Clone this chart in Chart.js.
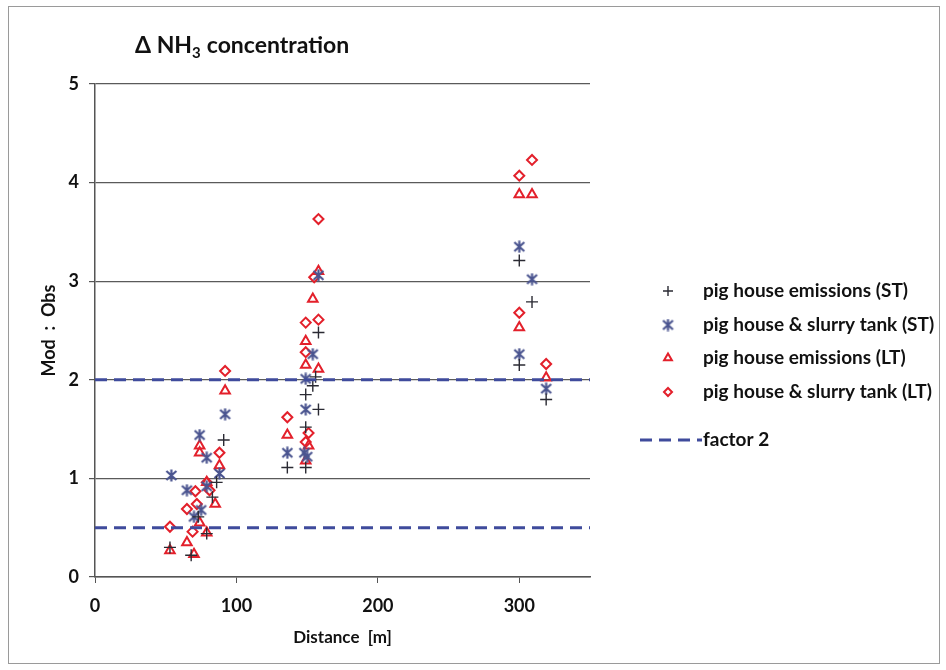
<!DOCTYPE html>
<html>
<head>
<meta charset="utf-8">
<script src="https://cdn.jsdelivr.net/npm/chart.js@4.4.1/dist/chart.umd.min.js"></script>
<style>
html,body{margin:0;padding:0;background:#fff;}
#wrap{width:946px;height:670px;position:relative;}
</style>
</head>
<body>
<div id="wrap"><canvas id="c" width="946" height="670"></canvas></div>
<script>
// ---- data ----
const xTickValues = [0, 100, 200, 300];
const yTickValues = [0, 1, 2, 3, 4, 5];

const seriesNames = [
  'pig house emissions (ST)',
  'pig house & slurry tank (ST)',
  'pig house emissions (LT)',
  'pig house & slurry tank (LT)',
  'factor 2'
];

// pig house emissions (ST)
const phST_x = [53, 68, 73, 79, 83, 86, 91, 136, 149, 149, 149, 154, 158, 158, 156, 300, 300, 309, 319];
const phST_y = [0.30, 0.22, 0.61, 0.44, 0.81, 0.96, 1.39, 1.11, 1.11, 1.52, 1.85, 1.94, 1.70, 2.48, 2.03, 2.15, 3.21, 2.79, 1.80];

// pig house & slurry tank (ST)
const phsST_x = [54, 65, 70, 74, 75, 79, 79, 88, 92, 136, 148, 150, 149, 149, 154, 158, 300, 300, 309, 319];
const phsST_y = [1.03, 0.88, 0.61, 1.44, 0.68, 1.21, 0.92, 1.05, 1.65, 1.26, 1.26, 1.22, 1.70, 2.01, 2.26, 3.06, 2.26, 3.35, 3.02, 1.91];

// pig house emissions (LT)
const phLT_x = [53, 65, 70, 74, 74, 74, 79, 79, 85, 88, 92, 136, 149, 151, 149, 149, 154, 158, 158, 300, 300, 309, 319];
const phLT_y = [0.27, 0.35, 0.23, 1.33, 1.26, 0.55, 0.96, 0.45, 0.74, 1.13, 1.89, 1.44, 1.18, 1.33, 2.15, 2.39, 2.82, 2.11, 3.10, 2.53, 3.88, 3.88, 2.02];

// pig house & slurry tank (LT)
const phsLT_x = [53, 65, 69, 71, 72, 79, 81, 88, 92, 136, 149, 151, 149, 149, 158, 155, 158, 300, 300, 309, 319];
const phsLT_y = [0.51, 0.69, 0.46, 0.87, 0.74, 0.96, 0.88, 1.26, 2.09, 1.62, 1.37, 1.46, 2.28, 2.58, 2.61, 3.04, 3.63, 2.68, 4.07, 4.23, 2.16];

// factor 2 lines
const factorUpper = 2;
const factorLower = 0.5;
const xRange = [0, 350];

// ---- build ----
const zip = (xs, ys) => xs.map((x, i) => ({x: x, y: ys[i]}));
const RED = '#e3202b';
const DARK = '#2a2a33';
const BLUE = '#4b5590';
const NAVY = '#3f4b9c';
const FONT = 'Lato';

// asterisk-like marker: x with a vertical bar
function makeAsterisk(color) {
  const c = document.createElement('canvas');
  c.width = 13; c.height = 13;
  const g = c.getContext('2d');
  g.strokeStyle = color; g.lineWidth = 2.2; g.lineCap = 'butt';
  g.beginPath();
  g.moveTo(1.5, 2); g.lineTo(11.5, 11);
  g.moveTo(11.5, 2); g.lineTo(1.5, 11);
  g.moveTo(6.5, 0.5); g.lineTo(6.5, 12.5);
  g.stroke();
  return c;
}
const asterisk = makeAsterisk(BLUE);

const datasets = [
  {label: seriesNames[4], type: 'line', data: xRange.map(x => ({x: x, y: factorUpper})), borderColor: NAVY, borderWidth: 3, borderDash: [12, 7], pointRadius: 0, fill: false},
  {label: seriesNames[4] + ' (lower)', type: 'line', data: xRange.map(x => ({x: x, y: factorLower})), borderColor: NAVY, borderWidth: 3, borderDash: [12, 7], pointRadius: 0, fill: false},
  {label: seriesNames[0], data: zip(phST_x, phST_y), pointStyle: 'cross', pointRadius: 6, borderColor: DARK, borderWidth: 1.4},
  {label: seriesNames[1], data: zip(phsST_x, phsST_y), pointStyle: asterisk, pointRadius: 6, borderColor: BLUE, borderWidth: 2},
  {label: seriesNames[2], data: zip(phLT_x, phLT_y), pointStyle: 'triangle', pointRadius: 5.5, borderColor: RED, backgroundColor: 'rgba(255,255,255,0)', borderWidth: 2},
  {label: seriesNames[3], data: zip(phsLT_x, phsLT_y), pointStyle: 'rectRot', pointRadius: 5, borderColor: RED, backgroundColor: 'rgba(255,255,255,0)', borderWidth: 2}
];

const decor = {
  id: 'decor',
  beforeDraw(chart) {
    const ctx = chart.ctx;
    ctx.save();
    ctx.fillStyle = '#fff';
    ctx.fillRect(0, 0, chart.width, chart.height);
    ctx.strokeStyle = '#9a9a9a';
    ctx.lineWidth = 1;
    ctx.strokeRect(8.5, 6.5, 931, 657);
    ctx.restore();
  },
  afterDraw(chart) {
    const ctx = chart.ctx;
    ctx.save();
    // title with subscript
    ctx.fillStyle = '#111';
    ctx.textBaseline = 'alphabetic';
    ctx.font = 'bold 23px ' + FONT;
    let x = 135, y = 53;
    ctx.fillText('\u0394 NH', x, y);
    x += ctx.measureText('\u0394 NH').width;
    ctx.font = 'bold 15px ' + FONT;
    ctx.fillText('3', x, y + 5);
    x += ctx.measureText('3').width + 6;
    ctx.font = 'bold 23px ' + FONT;
    ctx.fillText('concentration', x, y);

    // legend
    const rows = [291, 325, 358, 392];
    const mx = 668;
    for (let i = 0; i < 4; i++) {
      const ds = chart.data.datasets[i + 2];
      ctx.save();
      ctx.strokeStyle = ds.borderColor;
      ctx.fillStyle = 'rgba(255,255,255,0)';
      ctx.lineWidth = ds.borderWidth;
      Chart.helpers.drawPoint(ctx, {pointStyle: ds.pointStyle, radius: ds.pointRadius - 1, borderWidth: ds.borderWidth, rotation: 0}, mx, rows[i]);
      ctx.restore();
      ctx.fillStyle = '#111';
      ctx.font = 'bold 19px ' + FONT;
      ctx.textBaseline = 'middle';
      ctx.fillText(seriesNames[i], 703, rows[i]);
    }
    // factor 2 legend
    ctx.strokeStyle = NAVY;
    ctx.lineWidth = 3;
    ctx.setLineDash([12, 7]);
    ctx.beginPath();
    ctx.moveTo(640, 440);
    ctx.lineTo(702, 440);
    ctx.stroke();
    ctx.setLineDash([]);
    ctx.fillStyle = '#111';
    ctx.font = 'bold 19px ' + FONT;
    ctx.textBaseline = 'middle';
    ctx.fillText(seriesNames[4], 703, 440);
    ctx.restore();
  }
};

new Chart(document.getElementById('c'), {
  type: 'scatter',
  data: {datasets: datasets},
  plugins: [decor],
  options: {
    responsive: false,
    animation: false,
    layout: {padding: {left: 38, top: 84, right: 356, bottom: 22}},
    plugins: {legend: {display: false}, title: {display: false}, tooltip: {enabled: false}},
    scales: {
      x: {
        type: 'linear', min: xRange[0], max: xRange[1],
        afterBuildTicks: (s) => { s.ticks = xTickValues.map(v => ({value: v})); },
        afterFit: (s) => { s.height = 71; },
        grid: {display: true, drawOnChartArea: false, drawTicks: true, tickLength: 6, color: '#555', tickColor: '#555'},
        border: {display: true, color: '#555', width: 1.5},
        ticks: {color: '#111', font: {family: FONT, size: 18, weight: 'bold'}, padding: 12},
        title: {display: true, text: 'Distance  [m]', color: '#111', font: {family: FONT, size: 17, weight: 'bold'}, padding: {top: 4, bottom: 0}}
      },
      y: {
        type: 'linear', min: 0, max: 5,
        afterBuildTicks: (s) => { s.ticks = yTickValues.map(v => ({value: v})); },
        afterFit: (s) => { s.width = 57; },
        grid: {display: true, drawOnChartArea: true, drawTicks: true, tickLength: 6, color: '#5a5a5a', tickColor: '#555', lineWidth: 1.2},
        border: {display: true, color: '#555', width: 1.5},
        ticks: {color: '#111', font: {family: FONT, size: 18, weight: 'bold'}, padding: 10},
        title: {display: true, text: 'Mod  :  Obs', color: '#111', font: {family: FONT, size: 18, weight: 'bold'}, padding: {top: 0, bottom: 0}}
      }
    }
  }
});
</script>
</body>
</html>
